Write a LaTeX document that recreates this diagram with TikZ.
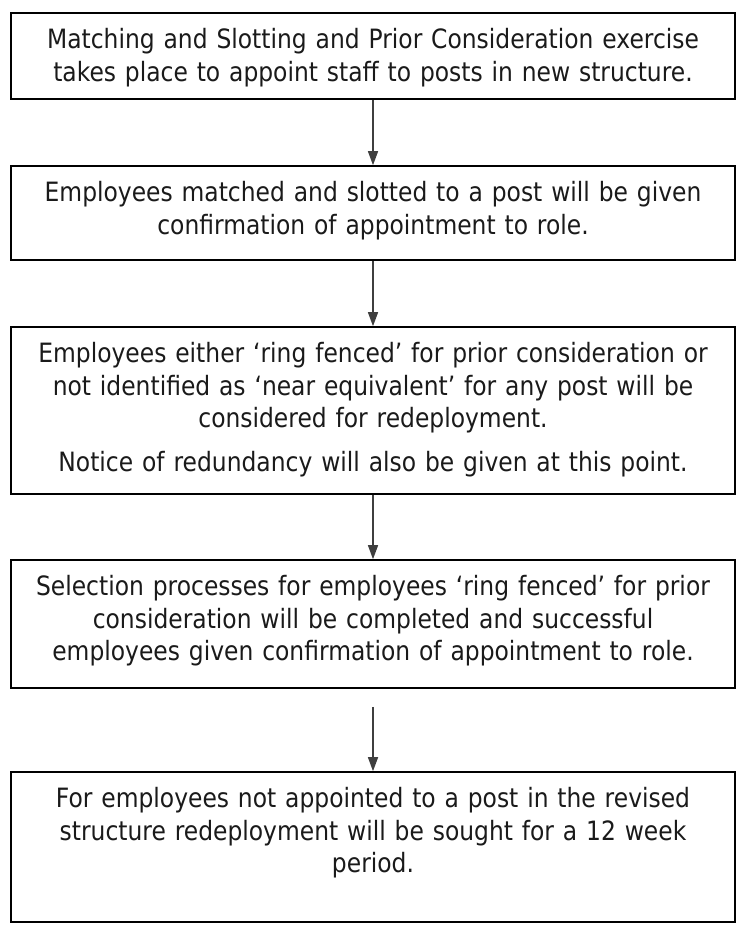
\documentclass[tikz,border=0pt]{standalone}
\usepackage{fontspec}
\setmainfont[FakeStretch=0.88]{DejaVu Sans}
\usetikzlibrary{arrows.meta,calc}
\definecolor{ink}{HTML}{1A1A1A}
\definecolor{arrowgray}{HTML}{3F3F3F}
\begin{document}
\begin{tikzpicture}[x=1pt,y=-1pt,
  box/.style={draw=black, line width=1.6pt, minimum width=724pt, inner sep=0pt},
  txt/.style={anchor=north, text width=716pt, inner sep=0pt, align=center, text=ink,
    font=\fontsize{26.6}{32.5}\selectfont},
  flow/.style={draw=arrowgray, line width=1.4pt, -{Triangle[width=10pt,length=14pt]}}]
\useasboundingbox (0,0) rectangle (743,931);
% boxes (top-aligned text, as in the original text boxes)
\node[box, minimum height=86pt]  (b1) at (373,56)  {};
\node[box, minimum height=94pt]  (b2) at (373,213) {};
\node[box, minimum height=167pt] (b3) at (373,410.5) {};
\node[box, minimum height=128pt] (b4) at (373,624) {};
\node[box, minimum height=150pt] (b5) at (373,847) {};
\node[txt] (t1) at ($(b1.north)+(0,16)$)
  {Matching and Slotting and Prior Consideration exercise\\takes place to appoint staff to posts in new structure.};
\node[txt] (t2) at ($(b2.north)+(0,16)$)
  {Employees matched and slotted to a post will be given\\confirmation of appointment to role.};
\node[txt] (t3) at ($(b3.north)+(0,16)$)
  {Employees either ‘ring fenced’ for prior consideration or\\not identified as ‘near equivalent’ for any post will be\\considered for redeployment.\\[11pt]Notice of redundancy will also be given at this point.};
\node[txt] (t4) at ($(b4.north)+(0,16)$)
  {Selection processes for employees ‘ring fenced’ for prior\\consideration will be completed and successful\\employees given confirmation of appointment to role.};
\node[txt] (t5) at ($(b5.north)+(0,16)$)
  {For employees not appointed to a post in the revised\\structure redeployment will be sought for a 12 week\\period.};
\coordinate (a4s) at ($(b4.south)+(0,18)$);
\draw[flow] (b1.south) -- (b2.north);
\draw[flow] (b2.south) -- (b3.north);
\draw[flow] (b3.south) -- (b4.north);
\draw[flow] (a4s) -- (b5.north);
\end{tikzpicture}
\end{document}
